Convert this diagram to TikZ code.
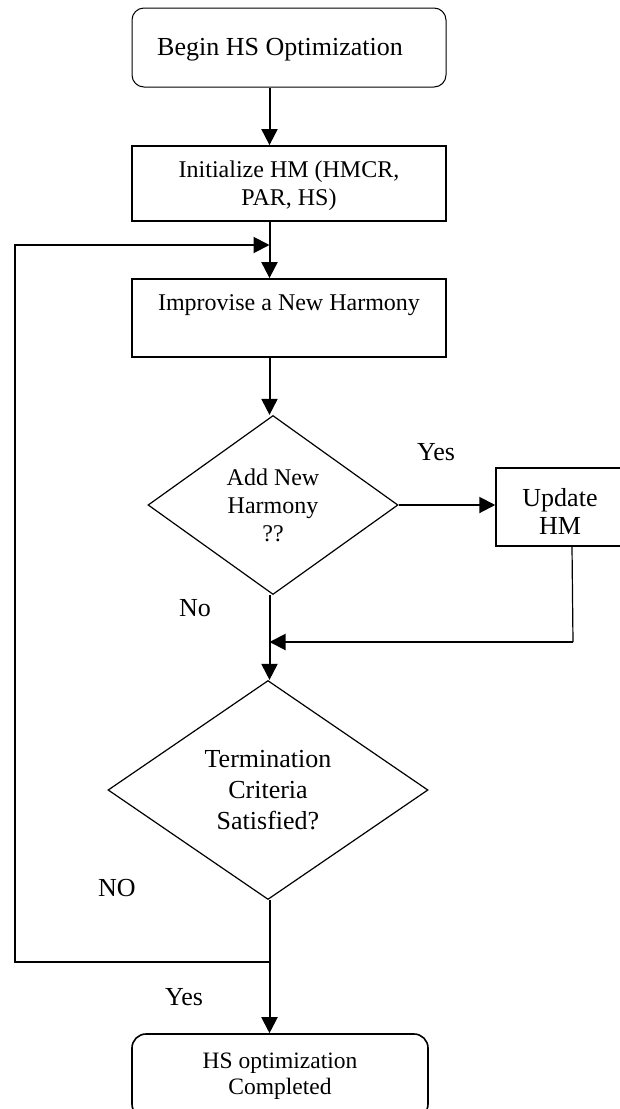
\documentclass[tikz,border=0pt]{standalone}
\usepackage{fontspec}
\setmainfont{Liberation Serif}
\usetikzlibrary{shapes.geometric,arrows.meta,calc}
\begin{document}
\begin{tikzpicture}[x=1pt,y=-1pt,
  boxthin/.style={draw, line width=1pt, rounded corners=12pt, inner sep=0pt},
  boxthick/.style={draw, line width=1.8pt, inner sep=0pt},
  roundthick/.style={draw, line width=1.6pt, rounded corners=14pt, inner sep=0pt},
  decision/.style={draw, diamond, line width=1.2pt, inner sep=0pt, align=center},
  txt/.style={align=center, inner sep=0pt},
  flow/.style={line width=2pt, -{Triangle[length=16pt,width=16pt]}},
  f26/.style={font=\fontsize{26}{31}\selectfont},
  f24/.style={font=\fontsize{24}{28}\selectfont},
  f23/.style={font=\fontsize{23.5}{26.5}\selectfont}]
\useasboundingbox (0,0) rectangle (619,1109);
\coordinate (spine) at (269.5,0);

% boxes
\node[boxthin, minimum width=314pt, minimum height=79pt] (begin) at (289,47.5) {};
\node[txt, f26] (begintxt) at (280,50) {Begin HS Optimization};

\node[boxthick, minimum width=314pt, minimum height=75pt] (init) at (289,183.5) {};
\node[txt, f24] (inittxt) at (289,186) {Initialize HM (HMCR,\\PAR, HS)};

\node[boxthick, minimum width=314pt, minimum height=78pt] (improve) at (289,318) {};
\node[txt, f24] (improvetxt) at (289,305) {Improvise a New Harmony};

\node[decision, f24, minimum width=250pt, minimum height=179pt] (d1) at (273,505) {Add New\\Harmony\\??};

\node[draw, line width=1.5pt, inner sep=0pt, minimum width=128pt, minimum height=78pt] (update) at (560,507) {};
\node[txt, font=\fontsize{26}{28}\selectfont] (updatetxt) at (560,511) {Update\\HM};

\node[decision, f26, minimum width=320pt, minimum height=219pt] (d2) at (268,790) {Termination\\Criteria\\Satisfied?};

\node[roundthick, minimum width=296pt, minimum height=84pt] (finish) at (280,1076) {};
\node[txt, f23] (finishtxt) at (280,1076) {HS optimization\\Completed};

% labels
\node[txt, f26] (yes1) at (436,452) {Yes};
\node[txt, f26] (no1) at (195,608) {No};
\node[txt, f26] (no2) at (117,888) {NO};
\node[txt, f26] (yes2) at (184,997) {Yes};

% coordinates for connectors
\coordinate (loopstart) at (269.5,962);
\coordinate (lc1) at (15,962);
\coordinate (lc2) at (15,245);
\coordinate (loopend) at (269.5,245);
\coordinate (u0) at (572,546);
\coordinate (m1) at (573,642);
\coordinate (merge) at (269.5,642);

% connectors
\draw[flow] (begin.south -| spine) -- (init.north -| spine);
\draw[flow] (init.south -| spine) -- (improve.north -| spine);
\draw[flow] (improve.south -| spine) -- (d1.north -| spine);
\draw[flow] (d1.east) -- (d1.east -| update.west);
\draw[line width=1.2pt] (u0) -- (m1);
\draw[flow] (m1) -- (merge);
\draw[flow] (d1.south -| spine) -- (d2.north -| spine);
\draw[flow] (d2.south -| spine) -- (finish.north -| spine);
\draw[flow] (loopstart) -- (lc1) -- (lc2) -- (loopend);
\end{tikzpicture}
\end{document}
